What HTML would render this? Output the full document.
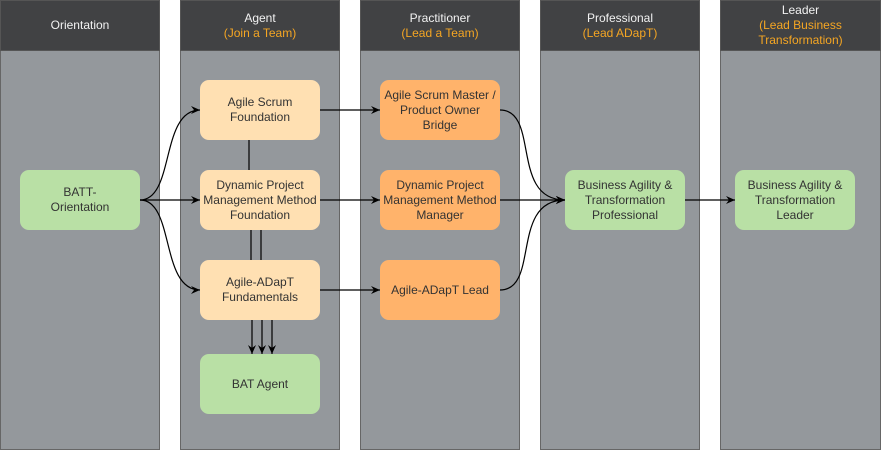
<!DOCTYPE html>
<html><head><style>
body{margin:0;width:882px;height:451px;background:#fff;position:relative;font-family:"Liberation Sans",sans-serif;overflow:hidden}
.col{position:absolute;top:0;width:160px;height:450px;background:#94989c;border:1px solid #666;box-sizing:border-box}
.hd{position:absolute;left:-1px;top:-1px;width:160px;height:51px;background:#414244;border:1px solid #555;box-sizing:border-box;color:#f2f2f2;font-size:12px;text-align:center;display:flex;flex-direction:column;justify-content:center;line-height:15px}
.hd span{color:#f5a623}
.n{position:absolute;width:120px;height:60px;border-radius:9px;display:flex;align-items:center;justify-content:center;text-align:center;font-size:12px;color:#333;line-height:15px;box-sizing:border-box}
.y{background:#ffe0b2}.o{background:#ffb36b}.g{background:#b9e0a5}
svg{position:absolute;left:0;top:0}
</style></head><body>
<div class="col" style="left:0"><div class="hd">Orientation</div></div>
<div class="col" style="left:180px"><div class="hd">Agent<span>(Join a Team)</span></div></div>
<div class="col" style="left:360px"><div class="hd">Practitioner<span>(Lead a Team)</span></div></div>
<div class="col" style="left:540px"><div class="hd">Professional<span>(Lead ADapT)</span></div></div>
<div class="col" style="left:720px;width:161px"><div class="hd" style="width:161px">Leader<span>(Lead Business Transformation)</span></div></div>
<svg width="882" height="451">
<defs><marker id="a" markerWidth="10" markerHeight="10" refX="9" refY="5" orient="auto" markerUnits="userSpaceOnUse"><path d="M0,1 L9,5 L0,9 L3,5z" fill="#000"/></marker></defs>
<g stroke="#000" fill="none" stroke-width="1.2">
<path d="M140,200 C175,200 160,110 200,110" marker-end="url(#a)"/>
<path d="M140,200 L200,200" marker-end="url(#a)"/>
<path d="M140,200 C175,200 160,290 200,290" marker-end="url(#a)"/>
<path d="M320,110 L380,110" marker-end="url(#a)"/>
<path d="M320,200 L380,200" marker-end="url(#a)"/>
<path d="M320,290 L380,290" marker-end="url(#a)"/>
<path d="M500,110 C540,110 510,200 565,200" marker-end="url(#a)"/>
<path d="M500,200 L565,200" marker-end="url(#a)"/>
<path d="M500,290 C540,290 510,200 565,200" marker-end="url(#a)"/>
<path d="M685,200 L735,200" marker-end="url(#a)"/>
<path d="M249,140 L249,170"/>
<path d="M251,230 L251,260 M261,230 L261,260"/>
<path d="M252,320 L252,354" marker-end="url(#a)"/>
<path d="M262,320 L262,354" marker-end="url(#a)"/>
<path d="M272,320 L272,354" marker-end="url(#a)"/>
</g></svg>
<div class="n g" style="left:20px;top:170px">BATT-<br>Orientation</div>
<div class="n y" style="left:200px;top:80px">Agile Scrum<br>Foundation</div>
<div class="n y" style="left:200px;top:170px">Dynamic Project<br>Management Method<br>Foundation</div>
<div class="n y" style="left:200px;top:260px">Agile-ADapT<br>Fundamentals</div>
<div class="n g" style="left:200px;top:354px">BAT Agent</div>
<div class="n o" style="left:380px;top:80px">Agile Scrum Master /<br>Product Owner<br>Bridge</div>
<div class="n o" style="left:380px;top:170px">Dynamic Project<br>Management Method<br>Manager</div>
<div class="n o" style="left:380px;top:260px">Agile-ADapT Lead</div>
<div class="n g" style="left:565px;top:170px">Business Agility &amp;<br>Transformation<br>Professional</div>
<div class="n g" style="left:735px;top:170px">Business Agility &amp;<br>Transformation<br>Leader</div>
</body></html>
